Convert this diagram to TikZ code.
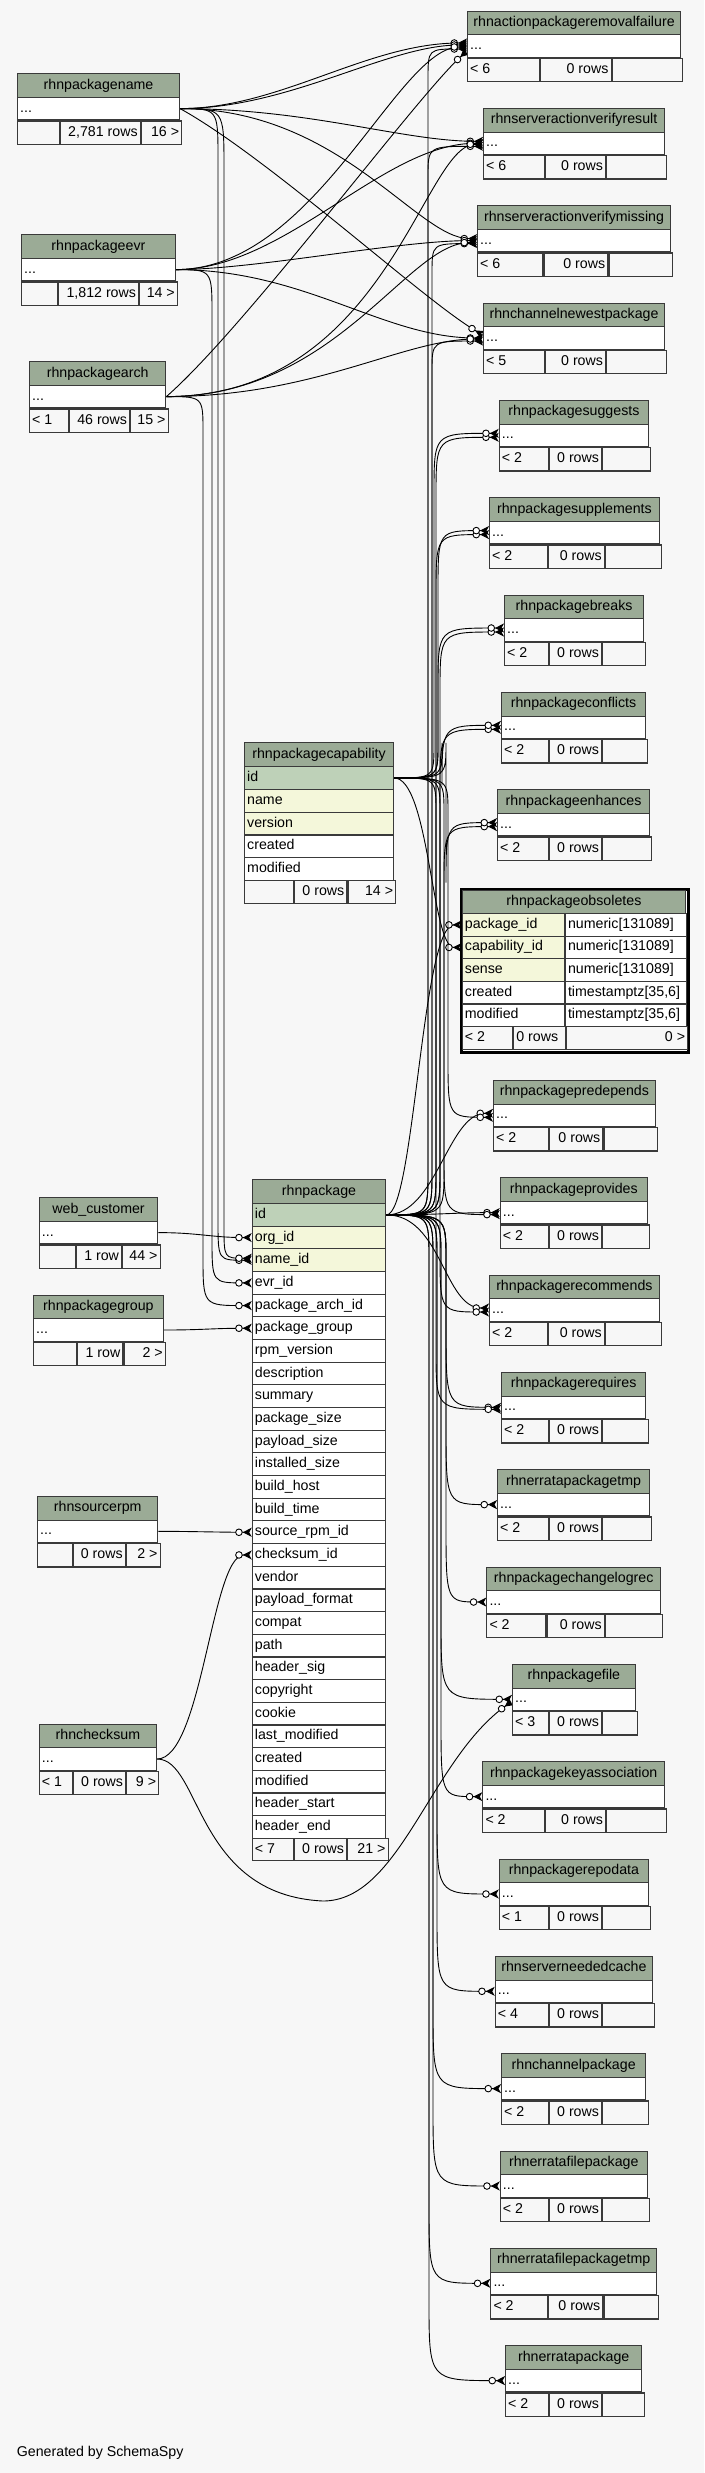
\documentclass[tikz,border=0pt]{standalone}
\usepackage{fontspec}
\setmainfont{Liberation Sans}
\usetikzlibrary{arrows.meta,calc}
\pgfdeclarelayer{bglayer}
\pgfdeclarelayer{edges}
\pgfsetlayers{bglayer,edges,main}
\definecolor{bgc}{HTML}{F7F7F7}
\definecolor{hdrc}{HTML}{9BAB96}
\definecolor{pkc}{HTML}{BED1B8}
\definecolor{ixc}{HTML}{F4F7DA}
\definecolor{bordc}{HTML}{3A3A3A}
\newcommand\tf{\fontsize{14.2pt}{17pt}\selectfont}
\tikzset{
  box/.style={draw=bordc, line width=1.1pt, inner sep=0pt, anchor=north west},
  hdrbox/.style={box, fill=hdrc, font=\tf, text height=10pt, text depth=3pt},
  bodybox/.style={box, fill=white},
  footbox/.style={box, fill=bgc},
  txt/.style={font=\tf, inner sep=0pt, text height=10pt, text depth=3pt},
  fk/.style={line width=0.9pt, draw=black, -{Circle[fill=white,length=7.5pt,width=7.5pt] Stealth[reversed,length=9pt,width=9pt,inset=2.5pt]}},
}
\newcommand\ctabF[4]{%
  \node[footbox, minimum width=\ctA pt, minimum height=23.3pt] (#1-f1) at (#1-r.south west) {};
  \node[footbox, minimum width=\ctB pt, minimum height=23.3pt] (#1-f2) at (#1-f1.north east) {};
  \node[footbox, minimum width=\ctC pt, minimum height=23.3pt] (#1-f3) at (#1-f2.north east) {};
  \node[txt, anchor=west] (#1-t1) at ([xshift=3pt]#1-f1.west) {#2};
  \node[txt, anchor=east] (#1-t2) at ([xshift=-3pt]#1-f2.east) {#3};
  \node[txt, anchor=east] (#1-t3) at ([xshift=-3pt]#1-f3.east) {#4};
}
% id, title, x1, x2, top, s1, s2, {{left}{mid}{right}}
\newcommand\ctab[8]{%
  \pgfmathsetmacro\ctW{#4-#3}%
  \pgfmathsetmacro\ctA{#6-#3}%
  \pgfmathsetmacro\ctB{#7-#6}%
  \pgfmathsetmacro\ctC{#4-#7}%
  \node[hdrbox, minimum width=\ctW pt, minimum height=23.5pt] (#1-h) at (#3,#5) {#2};
  \node[bodybox, minimum width=\ctW pt, minimum height=22.5pt] (#1-r) at (#3,#5+23.5) {};
  \node[txt, anchor=west] (#1-rt) at ([xshift=3pt]#1-r.west) {...};
  \ctabF{#1}#8}
\newcommand\obsrow[4]{%
  \node[box, fill=#4, minimum width=102pt, minimum height=22.6pt] (obs-#1) at (461.7,913+22.6*#1-22.6) {};
  \node[box, fill=white, minimum width=121.3pt, minimum height=22.6pt] (obs-#1-ty) at (obs-#1.north east) {};
  \node[txt, anchor=west] (obs-#1-t) at ([xshift=3pt]obs-#1.west) {#2};
  \node[txt, anchor=west] (obs-#1-tyt) at ([xshift=3pt]obs-#1-ty.west) {#3};
}
% simple S-curve: from, to, out distance, in distance
\newcommand\fke[4]{\draw[fk] (#1) .. controls +(#3,0) and +(-#4,0) .. (#2);}
% routed down / up through a vertical channel at x=#3 with turn sizes #4 (start) and #5 (end)
\newcommand\dke[5]{\draw[fk] let \p1=(#1), \p2=(#2) in (\p1) .. controls (#3pt,\y1) .. (#3pt,\y1-#4pt) -- (#3pt,\y2+#5pt) .. controls (#3pt,\y2) .. (\p2);}
\newcommand\uke[5]{\draw[fk] let \p1=(#1), \p2=(#2) in (\p1) .. controls (#3pt,\y1) .. (#3pt,\y1+#4pt) -- (#3pt,\y2-#5pt) .. controls (#3pt,\y2) .. (\p2);}
\begin{document}
\begin{tikzpicture}[x=1pt,y=-1pt]
\begin{pgfonlayer}{bglayer}
\fill[bgc] (0,0) rectangle (704,2473);
\end{pgfonlayer}
\useasboundingbox (0,0) rectangle (704,2473);

% ---------- right column ----------
\ctab{rf}{rhnactionpackageremovalfailure}{467}{680}{10.7}{538.8}{609.4}{{< 6}{0 rows}{}}
\ctab{vr}{rhnserveractionverifyresult}{483}{664}{108}{543.8}{604}{{< 6}{0 rows}{}}
\ctab{vm}{rhnserveractionverifymissing}{477}{670}{205.3}{542.4}{606.2}{{< 6}{0 rows}{}}
\ctab{cn}{rhnchannelnewestpackage}{483}{664}{302.7}{543.8}{604}{{< 5}{0 rows}{}}
\ctab{sg}{rhnpackagesuggests}{498.7}{648}{400}{547.7}{600}{{< 2}{0 rows}{}}
\ctab{sp}{rhnpackagesupplements}{489}{658.7}{497.3}{546.7}{602.7}{{< 2}{0 rows}{}}
\ctab{br}{rhnpackagebreaks}{504}{643}{594.7}{547.7}{600}{{< 2}{0 rows}{}}
\ctab{cf}{rhnpackageconflicts}{501}{645}{692}{547.7}{600}{{< 2}{0 rows}{}}
\ctab{en}{rhnpackageenhances}{497}{649}{789.3}{547.7}{600}{{< 2}{0 rows}{}}
\ctab{pd}{rhnpackagepredepends}{493}{654.7}{1080}{547.7}{601.3}{{< 2}{0 rows}{}}
\ctab{pv}{rhnpackageprovides}{499.7}{646.7}{1177.3}{547.7}{600}{{< 2}{0 rows}{}}
\ctab{rc}{rhnpackagerecommends}{489}{658.7}{1274.7}{546.7}{602.7}{{< 2}{0 rows}{}}
\ctab{rq}{rhnpackagerequires}{501}{645.3}{1372}{547.7}{600}{{< 2}{0 rows}{}}
\ctab{et}{rhnerratapackagetmp}{497}{649}{1469.3}{547.7}{600}{{< 2}{0 rows}{}}
\ctab{cl}{rhnpackagechangelogrec}{486.3}{660}{1566.7}{545.3}{602.7}{{< 2}{0 rows}{}}
\ctab{pf}{rhnpackagefile}{512}{634.7}{1664}{548}{600}{{< 3}{0 rows}{}}
\ctab{ka}{rhnpackagekeyassociation}{482.3}{664}{1761.3}{544}{604}{{< 2}{0 rows}{}}
\ctab{rd}{rhnpackagerepodata}{498.7}{648}{1858.7}{547.7}{600}{{< 1}{0 rows}{}}
\ctab{nc}{rhnserverneededcache}{494.7}{652}{1956}{548}{600}{{< 4}{0 rows}{}}
\ctab{cp}{rhnchannelpackage}{501}{645.3}{2053.3}{547.7}{600}{{< 2}{0 rows}{}}
\ctab{ef}{rhnerratafilepackage}{499.7}{646.7}{2150.7}{547.7}{600}{{< 2}{0 rows}{}}
\ctab{eft}{rhnerratafilepackagetmp}{490.3}{656}{2248}{546.7}{601.3}{{< 2}{0 rows}{}}
\ctab{ep}{rhnerratapackage}{505}{641.3}{2345.3}{547.7}{600}{{< 2}{0 rows}{}}

% ---------- left column ----------
\ctab{pn}{rhnpackagename}{17}{179}{73.3}{58.7}{138.7}{{}{2,781 rows}{16 >}}
\ctab{pe}{rhnpackageevr}{21}{174.7}{234.3}{57}{137}{{}{1,812 rows}{14 >}}
\ctab{pa}{rhnpackagearch}{29}{165.3}{361.3}{68}{128}{{< 1}{46 rows}{15 >}}
\ctab{wc}{web\_customer}{38.7}{157.3}{1197.3}{74.7}{120}{{}{1 row}{44 >}}
\ctab{pg}{rhnpackagegroup}{33}{162.7}{1294.7}{76}{121.3}{{}{1 row}{2 >}}
\ctab{sr}{rhnsourcerpm}{37}{157.3}{1496}{72}{123.7}{{}{0 rows}{2 >}}
\ctab{ck}{rhnchecksum}{38.7}{156}{1723.7}{71.7}{124}{{< 1}{0 rows}{9 >}}

% ---------- rhnpackagecapability ----------
\node[hdrbox, minimum width=149pt, minimum height=24pt] (cap-h) at (244,742) {rhnpackagecapability};
\foreach \nm/\cl [count=\i] in {id/pkc, name/ixc, version/ixc, created/white, modified/white} {
  \node[box, fill=\cl, minimum width=149pt, minimum height=22.8pt] (cap-\i) at (244,766+22.8*\i-22.8) {};
  \node[txt, anchor=west] (cap-\i-t) at ([xshift=3pt]cap-\i.west) {\nm};
}
\node[footbox, minimum width=49pt, minimum height=22.5pt] (cap-f1) at (244,880) {};
\node[footbox, minimum width=52.3pt, minimum height=22.5pt] (cap-f2) at (cap-f1.north east) {};
\node[footbox, minimum width=47.7pt, minimum height=22.5pt] (cap-f3) at (cap-f2.north east) {};
\node[txt, anchor=east] (cap-t2) at ([xshift=-3pt]cap-f2.east) {0 rows};
\node[txt, anchor=east] (cap-t3) at ([xshift=-3pt]cap-f3.east) {14 >};

% ---------- rhnpackage ----------
\node[hdrbox, minimum width=133.6pt, minimum height=24pt] (pkg-h) at (251.7,1179) {rhnpackage};
\foreach \nm/\cl [count=\i] in {id/pkc, org\_id/ixc, name\_id/ixc, evr\_id/white, package\_arch\_id/white, package\_group/white, rpm\_version/white, description/white, summary/white, package\_size/white, payload\_size/white, installed\_size/white, build\_host/white, build\_time/white, source\_rpm\_id/white, checksum\_id/white, vendor/white, payload\_format/white, compat/white, path/white, header\_sig/white, copyright/white, cookie/white, last\_modified/white, created/white, modified/white, header\_start/white, header\_end/white} {
  \node[box, fill=\cl, minimum width=133.6pt, minimum height=22.67pt] (pkg-\i) at (251.7,1203+22.67*\i-22.67) {};
  \node[txt, anchor=west] (pkg-\i-t) at ([xshift=3pt]pkg-\i.west) {\nm};
}
\node[footbox, minimum width=41.3pt, minimum height=22.5pt] (pkg-f1) at (251.7,1837.8) {};
\node[footbox, minimum width=52pt, minimum height=22.5pt] (pkg-f2) at (pkg-f1.north east) {};
\node[footbox, minimum width=40.3pt, minimum height=22.5pt] (pkg-f3) at (pkg-f2.north east) {};
\node[txt, anchor=west] (pkg-t1) at ([xshift=3pt]pkg-f1.west) {< 7};
\node[txt, anchor=east] (pkg-t2) at ([xshift=-3pt]pkg-f2.east) {0 rows};
\node[txt, anchor=east] (pkg-t3) at ([xshift=-3pt]pkg-f3.east) {21 >};

% ---------- rhnpackageobsoletes ----------
\node[draw=black, line width=3pt, fill=white, inner sep=0pt, anchor=north west, minimum width=226.3pt, minimum height=162.3pt] (obs-frame) at (460.2,888.2) {};
\node[hdrbox, minimum width=223.3pt, minimum height=23.3pt] (obs-h) at (461.7,889.7) {rhnpackageobsoletes};
\obsrow{1}{package\_id}{numeric[131089]}{ixc}
\obsrow{2}{capability\_id}{numeric[131089]}{ixc}
\obsrow{3}{sense}{numeric[131089]}{ixc}
\obsrow{4}{created}{timestamptz[35,6]}{white}
\obsrow{5}{modified}{timestamptz[35,6]}{white}
\node[footbox, minimum width=50.3pt, minimum height=23pt] (obs-f1) at (461.7,1026) {};
\node[footbox, minimum width=51.7pt, minimum height=23pt] (obs-f2) at (obs-f1.north east) {};
\node[footbox, minimum width=121.3pt, minimum height=23pt] (obs-f3) at (obs-f2.north east) {};
\node[txt, anchor=west] (obs-t1) at ([xshift=3pt]obs-f1.west) {< 2};
\node[txt, anchor=west] (obs-t2) at ([xshift=3pt]obs-f2.west) {0 rows};
\node[txt, anchor=east] (obs-t3) at ([xshift=-3pt]obs-f3.east) {0 >};

\node[txt, anchor=base west] (gen) at (16.7,2456) {Generated by SchemaSpy};

% ---------- connectors ----------
\begin{pgfonlayer}{edges}
\coordinate (ckbot) at (323,1901);
% rhnpackage.id, upwards
\foreach \t/\v in {rf/428, vr/428, vm/432, cn/432} {\uke{pkg-1.east}{[yshift=-3pt]\t-r.west}{\v}{45}{30}}
\foreach \t/\v in {sg/436, sp/436, br/440, cf/440, en/444} {\uke{pkg-1.east}{[yshift=-2pt]\t-r.west}{\v}{45}{60}}
\fke{pkg-1.east}{obs-1.west}{28}{40}
\fke{pkg-1.east}{[yshift=2pt]pd-r.west}{50}{45}
\fke{pkg-1.east}{pv-r.west}{50}{45}
% rhnpackage.id, downwards
\fke{pkg-1.east}{[yshift=2pt]rc-r.west}{55}{45}
\foreach \t/\v in {rq/446, et/446, cl/446, pf/441, ka/441, rd/437, nc/437, cp/433, ef/433, eft/429, ep/429} {\dke{pkg-1.east}{\t-r.west}{\v}{45}{80}}
% rhnpackagecapability.id
\foreach \t/\v in {sg/434, sp/438, br/438, cf/442, en/446} {\uke{cap-1.east}{[yshift=2pt]\t-r.west}{\v}{35}{60}}
\fke{cap-1.east}{obs-2.west}{35}{30}
\foreach \t/\v in {rq/436, rc/440, pv/444, pd/448} {\dke{cap-1.east}{[yshift=-2pt]\t-r.west}{\v}{35}{60}}
% rhnpackagename
\fke{pn-r.east}{[yshift=3pt]rf-r.west}{100}{100}
\fke{pn-r.east}{[yshift=1pt]rf-r.west}{110}{80}
\fke{pn-r.east}{[yshift=2pt]vr-r.west}{130}{80}
\fke{pn-r.east}{[yshift=2pt]vm-r.west}{160}{60}
\draw[fk] (pn-r.east) .. controls +(90,50) and +(-60,-35) .. ([yshift=3pt]cn-r.west);
\dke{pn-r.east}{pkg-3.west}{218}{50}{40}
\dke{pn-r.east}{[yshift=2pt]pkg-3.west}{224}{60}{32}
% rhnpackageevr
\fke{pe-r.east}{[yshift=-1pt]rf-r.west}{140}{70}
\fke{pe-r.east}{vr-r.west}{110}{100}
\fke{pe-r.east}{vm-r.west}{80}{80}
\fke{pe-r.east}{cn-r.west}{130}{100}
\dke{pe-r.east}{pkg-4.west}{212}{45}{45}
% rhnpackagearch
\draw[fk] (pa-r.east) .. controls +(80,-70) and +(-50,45) .. ([yshift=-5pt]rf-r.west);
\fke{pa-r.east}{[yshift=-1pt]vr-r.west}{220}{60}
\fke{pa-r.east}{[yshift=-2pt]vm-r.west}{170}{70}
\fke{pa-r.east}{[yshift=-1pt]cn-r.west}{150}{80}
\dke{pa-r.east}{pkg-5.west}{203}{35}{50}
% other parents of rhnpackage
\fke{wc-r.east}{pkg-2.west}{40}{40}
\fke{pg-r.east}{pkg-6.west}{40}{40}
\fke{sr-r.east}{pkg-15.west}{30}{30}
\fke{ck-r.east}{pkg-16.west}{45}{40}
\draw[fk] (ck-r.east) .. controls +(44,0) and (195,1895) .. (ckbot) .. controls (400,1901) and (430,1760) .. ([yshift=-2pt]pf-r.west);
\end{pgfonlayer}
\end{tikzpicture}
\end{document}
